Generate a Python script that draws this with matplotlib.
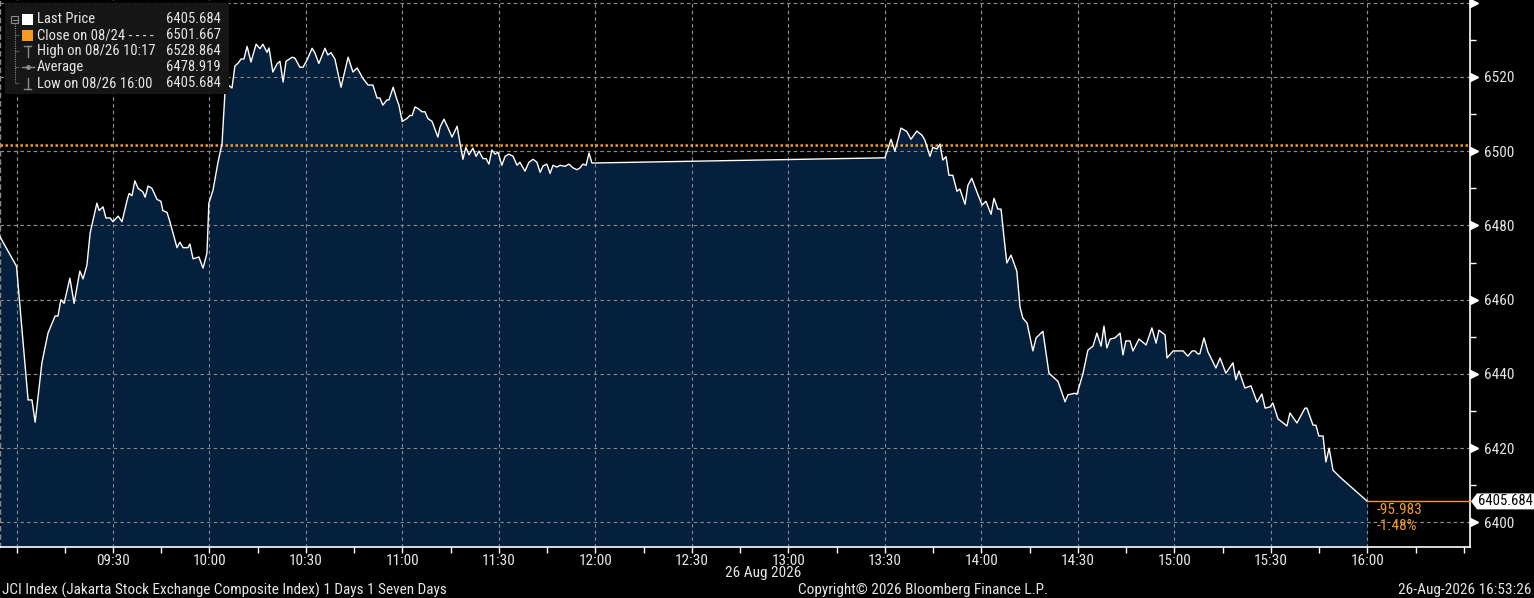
import matplotlib
matplotlib.use("Agg")
import matplotlib.pyplot as plt
import matplotlib.font_manager as fm
import matplotlib.transforms as mtransforms
from matplotlib.patches import Polygon, Rectangle
from matplotlib.lines import Line2D
from matplotlib.ticker import FixedLocator, MultipleLocator

# ---------------- data (minutes after 09:00, index level) ----------------
minutes = [-5.1, 0.0, 3.6, 4.8, 5.8, 7.9, 9.8, 12.0, 12.9, 13.8, 14.8, 16.6, 17.9, 19.7,
           20.7, 21.9, 22.9, 25.0, 25.7, 26.9, 27.8, 29.1, 30.0, 31.6, 32.8, 34.4, 35.0,
           35.9, 36.8, 37.8, 39.3, 40.0, 40.9, 42.1, 43.7, 44.9, 45.5, 46.8, 47.7, 49.9,
           50.8, 51.8, 53.3, 53.9, 54.9, 56.7, 58.0, 59.2, 59.5, 59.8, 61.1, 62.6, 63.9,
           64.8, 65.8, 67.0, 67.9, 68.9, 69.8, 70.7, 71.7, 72.9, 74.5, 75.7, 76.6, 77.9,
           78.5, 79.7, 81.0, 81.9, 82.9, 83.8, 85.7, 86.6, 88.1, 89.1, 90.3, 91.9, 92.8,
           94.0, 95.9, 96.8, 97.8, 99.0, 100.9, 103.1, 104.6, 105.9, 107.7, 109.3, 110.8,
           112.1, 113.0, 113.9, 115.2, 115.8, 117.1, 118.3, 118.9, 119.9, 121.4, 122.3,
           123.0, 123.9, 124.8, 126.1, 127.0, 127.9, 129.2, 131.0, 131.7, 132.9, 134.2,
           135.4, 137.0, 137.9, 138.8, 139.7, 140.7, 141.9, 142.9, 143.8, 145.0, 146.0,
           146.9, 147.8, 148.8, 149.7, 150.9, 151.9, 153.1, 154.4, 155.6, 156.5, 158.1,
           159.3, 160.6, 161.8, 162.8, 163.7, 164.9, 165.9, 166.8, 168.0, 169.0, 170.5,
           171.8, 173.0, 174.3, 175.2, 176.1, 177.1, 178.0, 178.9,
           270.0, 271.9, 273.1, 275.0, 276.8, 278.1, 279.9, 281.5, 282.4, 284.0, 284.9,
           286.2, 287.1, 288.0, 289.0, 289.9, 291.1, 292.4, 293.3, 294.9, 295.8, 297.0,
           298.6, 300.2, 301.4, 303.0, 303.9, 305.1, 306.1, 307.0, 307.9, 309.2, 311.0,
           312.0, 312.9, 314.2, 316.0, 317.0, 319.1, 321.0, 323.8, 326.0, 326.9, 329.1,
           329.7, 331.6, 333.1, 334.7, 335.9, 337.2, 338.1, 339.0, 340.0, 341.5, 343.1,
           344.0, 344.9, 346.2, 347.1, 349.0, 351.2, 353.0, 354.3, 355.2, 357.1, 357.7,
           359.6, 361.1, 362.7, 364.2, 365.5, 366.4, 367.3, 367.9, 369.2, 370.4, 372.9,
           374.2, 376.0, 378.2, 379.1, 380.1, 381.9, 383.8, 385.7, 387.2, 388.2, 389.7,
           390.6, 392.2, 395.0, 395.9, 398.1, 400.6, 401.2, 403.1, 404.0, 404.9, 406.2,
           407.1, 408.1, 409.3, 411.5, 420.0]
price = [6476.9, 6469.0, 6433.0, 6433.0, 6427.0, 6443.0, 6451.0, 6455.6, 6455.6, 6460.0,
         6459.0, 6465.8, 6459.0, 6467.7, 6465.6, 6469.3, 6478.0, 6486.0, 6484.0, 6485.0,
         6482.0, 6482.0, 6481.0, 6482.5, 6481.0, 6486.8, 6488.6, 6488.0, 6492.0, 6490.0,
         6489.0, 6487.6, 6490.6, 6490.0, 6487.0, 6486.5, 6484.0, 6483.5, 6481.0, 6474.0,
         6475.5, 6474.0, 6474.0, 6475.0, 6471.0, 6471.5, 6468.5, 6472.5, 6478.7, 6486.0,
         6489.5, 6496.8, 6502.0, 6515.6, 6517.8, 6517.0, 6522.9, 6523.7, 6524.8, 6524.8,
         6528.2, 6524.0, 6528.8, 6527.6, 6528.8, 6526.6, 6527.8, 6521.3, 6523.5, 6524.2,
         6518.6, 6524.2, 6525.3, 6525.0, 6522.6, 6522.6, 6524.5, 6527.7, 6526.4, 6523.6,
         6527.7, 6525.9, 6526.5, 6524.8, 6517.2, 6525.3, 6521.3, 6522.4, 6519.6, 6517.8,
         6517.8, 6514.3, 6514.3, 6512.4, 6513.8, 6513.8, 6517.2, 6513.8, 6512.4, 6508.0,
         6508.8, 6509.6, 6509.6, 6511.9, 6511.5, 6510.6, 6510.6, 6508.8, 6508.0, 6503.8,
         6506.5, 6508.6, 6506.2, 6503.8, 6506.7, 6502.0, 6497.8, 6501.0, 6499.0, 6500.8,
         6498.6, 6500.0, 6498.0, 6498.0, 6496.5, 6500.3, 6499.2, 6499.7, 6496.2, 6498.6,
         6499.2, 6498.6, 6496.2, 6497.0, 6494.6, 6497.0, 6497.8, 6497.0, 6494.3, 6496.0,
         6496.5, 6494.0, 6496.2, 6495.7, 6496.2, 6495.9, 6496.5, 6495.5, 6495.0, 6495.5,
         6496.5, 6496.2, 6499.5, 6496.8,
         6498.2, 6503.2, 6500.0, 6506.2, 6505.3, 6503.2, 6505.4, 6504.3, 6503.0, 6498.6,
         6501.0, 6500.6, 6501.9, 6497.6, 6498.5, 6493.5, 6493.5, 6489.2, 6489.8, 6485.7,
         6490.8, 6492.7, 6489.0, 6485.5, 6486.5, 6483.0, 6487.3, 6484.4, 6484.4, 6476.9,
         6469.9, 6472.0, 6467.7, 6458.0, 6455.0, 6453.7, 6446.2, 6449.7, 6451.5, 6440.2,
         6438.0, 6432.5, 6434.4, 6434.8, 6434.5, 6440.2, 6446.4, 6447.5, 6451.0, 6447.5,
         6452.9, 6447.0, 6449.4, 6449.7, 6451.0, 6445.1, 6448.9, 6448.9, 6446.2, 6449.4,
         6447.8, 6452.4, 6448.3, 6451.8, 6450.5, 6444.3, 6446.2, 6446.2, 6446.2, 6444.8,
         6446.2, 6446.2, 6445.4, 6445.4, 6449.7, 6446.0, 6441.6, 6444.3, 6440.2, 6443.0,
         6438.4, 6440.8, 6436.2, 6436.8, 6432.4, 6434.6, 6430.8, 6431.1, 6432.2, 6427.9,
         6426.0, 6429.5, 6426.8, 6430.8, 6430.8, 6426.2, 6426.2, 6423.3, 6423.3, 6416.3,
         6420.0, 6414.1, 6412.2, 6405.684]

close_prev = 6501.667
last_price = 6405.684
change_abs = "-95.983"
change_pct = "-1.48%"

legend_labels = ["Last Price", "Close on 08/24 - - - -", "High on 08/26 10:17",
                 "Average", "Low on 08/26 16:00"]
legend_values = ["6405.684", "6501.667", "6528.864", "6478.919", "6405.684"]

y_ticks = [6400, 6420, 6440, 6460, 6480, 6500, 6520, 6540]
y_tick_labels = ["6400", "6420", "6440", "6460", "6480", "6500", "6520", ""]
x_tick_minutes = [0, 30, 60, 90, 120, 150, 180, 210, 240, 270, 300, 330, 360, 390, 420]
x_tick_labels = ["", "09:30", "10:00", "10:30", "11:00", "11:30", "12:00", "12:30",
                 "13:00", "13:30", "14:00", "14:30", "15:00", "15:30", "16:00"]

title_left = "JCI Index (Jakarta Stock Exchange Composite Index) 1 Days 1 Seven Days"
title_mid = "Copyright\u00a9 2026 Bloomberg Finance L.P."
title_right = "26-Aug-2026 16:53:26"
date_label = "26 Aug 2026"

# ---------------- style ----------------
avail = {f.name for f in fm.fontManager.ttflist}
FONT = "DejaVu Sans"
for cand in ["Liberation Sans Narrow", "DejaVu Sans Condensed", "Roboto Condensed",
             "Liberation Sans"]:
    if cand in avail:
        FONT = cand
        break
plt.rcParams["font.family"] = [FONT, "DejaVu Sans"]
FS = 11
FS_LEG = 10.5

BG = "black"
FILL = "#05203d"
ORANGE = "#f59a23"
GRID = "#8a8a8a"
TXT = "#e6e6e6"

W, H = 1534, 598
fig = plt.figure(figsize=(W / 100, H / 100), dpi=100, facecolor=BG)


def fx(px):
    return px / W


def fy(py):
    return 1 - py / H


ax = fig.add_axes([0, fy(547), fx(1470), 547 / H])
ax.set_facecolor(BG)

x_left, x_right = -5.13, 451.9
y_bot, y_top = 6393.4, 6540.7
ax.set_xlim(x_left, x_right)
ax.set_ylim(y_bot, y_top)

# grid (drawn below and above the fill so it shows through)
for z in (1, 2.5):
    for yt in y_ticks:
        ax.axhline(yt, color=GRID, lw=0.8, ls=(0, (3, 3)), zorder=z)
    for xt in x_tick_minutes:
        ax.axvline(xt, color=GRID, lw=0.8, ls=(0, (3, 3)), zorder=z)

# area + line
ax.fill_between(minutes, price, y_bot, color=FILL, zorder=2, lw=0)
ax.plot(minutes, price, color="white", lw=1.0, zorder=4)

# previous close dotted line
ax.axhline(close_prev, color=ORANGE, lw=1.8, ls=(0, (1, 1)), zorder=3)
# last price line from close to right edge
ax.plot([minutes[-1], x_right], [last_price, last_price], color=ORANGE, lw=1.0, zorder=4,
        clip_on=False)
ax.text(minutes[-1] + 3.0, last_price - 2.2, change_abs, color=ORANGE, fontsize=FS,
        va="center", ha="left", zorder=5)
ax.text(minutes[-1] + 3.0, last_price - 6.5, change_pct, color=ORANGE, fontsize=FS,
        va="center", ha="left", zorder=5)

# spines
ax.spines["top"].set_visible(False)
ax.spines["left"].set_color(GRID)
ax.spines["left"].set_linestyle((0, (3, 3)))
ax.spines["left"].set_linewidth(1.0)
ax.spines["right"].set_color("white")
ax.spines["right"].set_linewidth(1.2)
ax.spines["bottom"].set_color("white")
ax.spines["bottom"].set_linewidth(1.2)

# y axis on right
ax.yaxis.tick_right()
ax.yaxis.set_major_locator(FixedLocator(y_ticks))
ax.set_yticklabels(y_tick_labels)
ax.yaxis.set_minor_locator(FixedLocator([6410, 6430, 6450, 6470, 6490, 6510, 6530]))
ax.tick_params(axis="y", which="major", length=0, pad=10, labelsize=FS, labelcolor=TXT)
ax.tick_params(axis="y", which="minor", length=4, width=1, color="white", direction="out")
ax.tick_params(axis="y", left=False, which="both")

# triangle markers for major y ticks
tri_tr = mtransforms.blended_transform_factory(ax.transAxes, ax.transData) + \
    mtransforms.ScaledTranslation(4 / 100, 0, fig.dpi_scale_trans)
ax.plot([1.0] * len(y_ticks), y_ticks, ls="none", marker=">", ms=6, color="white",
        mec="white", transform=tri_tr, clip_on=False, zorder=6)

# x axis
ax.xaxis.set_major_locator(FixedLocator(x_tick_minutes))
ax.set_xticklabels(x_tick_labels)
ax.xaxis.set_minor_locator(MultipleLocator(15))
ax.tick_params(axis="x", which="both", length=4, width=1, color="white", direction="out",
               pad=1, labelsize=FS, labelcolor=TXT)
ax.text(232, -(566 - 547) / 547, date_label,
        transform=mtransforms.blended_transform_factory(ax.transData, ax.transAxes),
        color=TXT, fontsize=FS, ha="center", va="top")

# last price tag (arrow-shaped white box)
fig.canvas.draw()
_, ypx = ax.transData.transform((0, last_price))
tag = Polygon([(1471, ypx), (1477, ypx + 8), (W, ypx + 8), (W, ypx - 8), (1477, ypx - 8)],
              closed=True, facecolor="white", edgecolor="none",
              transform=mtransforms.IdentityTransform(), zorder=10)
fig.patches.append(tag)
fig.text(fx(1478), ypx / H, f"{last_price:.3f}", color="black", fontsize=FS_LEG,
         ha="left", va="center", zorder=11)

# ---------------- legend box ----------------
fig.patches.append(Rectangle((fx(5), fy(94)), fx(224), 91 / H, transform=fig.transFigure,
                             facecolor="#161616", edgecolor="none", zorder=20))
row_y = [19, 35, 51, 67, 83]
for i, (lab, val) in enumerate(zip(legend_labels, legend_values)):
    fig.text(fx(37), fy(row_y[i]), lab, color=TXT, fontsize=FS_LEG, ha="left",
             va="center", zorder=22)
    fig.text(fx(221), fy(row_y[i]), val, color=TXT, fontsize=FS_LEG, ha="right",
             va="center", zorder=22)

tree_c = "#8c8c8c"


def fl(xs, ys, **kw):
    fig.lines.append(Line2D([fx(v) for v in xs], [fy(v) for v in ys],
                            transform=fig.transFigure, zorder=23, **kw))


# collapse box and tree
fig.patches.append(Rectangle((fx(11), fy(23)), fx(7), 7 / H, transform=fig.transFigure,
                             facecolor="none", edgecolor=tree_c, lw=0.8, zorder=23))
fl([12.5, 16.5], [19.5, 19.5], color=tree_c, lw=0.8)
fl([14.5, 14.5], [23, 83], color=tree_c, lw=0.8, ls=(0, (1, 1)))
for ry in row_y[1:]:
    fl([14.5, 19], [ry, ry], color=tree_c, lw=0.8, ls=(0, (1, 1)))
# icons
fig.patches.append(Rectangle((fx(22), fy(25)), fx(11), 11 / H, transform=fig.transFigure,
                             facecolor="white", edgecolor="none", zorder=23))
fig.patches.append(Rectangle((fx(22), fy(41)), fx(11), 11 / H, transform=fig.transFigure,
                             facecolor=ORANGE, edgecolor="none", zorder=23))
fl([24, 31], [46, 46], color=tree_c, lw=1)
fl([27.5, 27.5], [46, 57], color=tree_c, lw=1)
fl([22, 34], [67, 67], color=tree_c, lw=1)
fig.lines.append(Line2D([fx(28)], [fy(67)], marker="o", ms=2.5, color=tree_c,
                        transform=fig.transFigure, zorder=24))
fl([27.5, 27.5], [78, 89], color=tree_c, lw=1)
fl([24, 31], [89, 89], color=tree_c, lw=1)

# ---------------- footer ----------------
fig.text(fx(2), fy(590), title_left, color=TXT, fontsize=FS, ha="left", va="center")
fig.text(fx(923), fy(590), title_mid, color=TXT, fontsize=FS, ha="center", va="center")
fig.text(fx(1531), fy(590), title_right, color=TXT, fontsize=FS, ha="right", va="center")

fig.savefig("out.png", dpi=100, facecolor=BG)
